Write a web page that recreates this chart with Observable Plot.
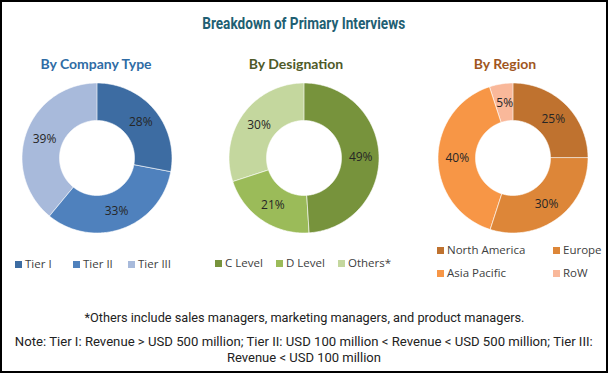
<!DOCTYPE html>
<html>
<head>
<meta charset="utf-8">
<script src="https://cdn.jsdelivr.net/npm/d3@7"></script>
<script src="https://cdn.jsdelivr.net/npm/@observablehq/plot@0.6"></script>
<style>
  html, body { margin: 0; padding: 0; background: #fff; }
  #frame { position: relative; width: 604px; height: 369px; border: 2px solid #000; overflow: hidden; background: #fff; }
  .abs { position: absolute; }
  .fit { left: 0; width: 604px; text-align: center; white-space: nowrap; }
  .fit span { display: inline-block; transform-origin: 50% 50%; }
  .title { font: bold 17px Roboto, "Liberation Sans", sans-serif; color: #1f5f73; }
  .sub { font: bold 14px Lato, "Open Sans", sans-serif; text-align: center; width: 200px; white-space: nowrap; }
  .leg { font: 11.5px "Open Sans", Lato, sans-serif; color: #404040; white-space: nowrap; }
  .sw { display: inline-block; width: 7px; height: 7px; margin-right: 3px; vertical-align: 0px; }
  .foot { font: 13px Roboto, "Liberation Sans", sans-serif; color: #222; }
</style>
</head>
<body>
<div id="frame"></div>
<script>
// ---- data ----
const companyCats = ["Tier I", "Tier II", "Tier III"];
const companyVals = [28, 33, 39];
const companyColors = ["#3d6ca2", "#4f81bd", "#a8badb"];

const designationCats = ["C Level", "D Level", "Others*"];
const designationVals = [49, 21, 30];
const designationColors = ["#77933c", "#9bbb59", "#c4d79e"];

const regionCats = ["North America", "Europe", "Asia Pacific", "RoW"];
const regionVals = [25, 30, 40, 5];
const regionColors = ["#bf722f", "#dd8638", "#f79646", "#f9b89a"];

const titleText = "Breakdown of Primary Interviews";
const subTitles = ["By Company Type", "By Designation", "By Region"];
const subColors = ["#2f6ca5", "#4f5a28", "#a0561e"];
const footnote1 = "*Others include sales managers, marketing managers, and product managers.";
const footnote2 = "Note: Tier I: Revenue > USD 500 million; Tier II: USD 100 million < Revenue < USD 500 million; Tier III:";
const footnote3 = "Revenue < USD 100 million";

// ---- layout ----
const frame = document.getElementById("frame");
function addDiv(cls, text, style) {
  const d = document.createElement("div");
  d.className = "abs " + cls;
  if (text != null) d.textContent = text;
  Object.assign(d.style, style || {});
  frame.appendChild(d);
  return d;
}
// centered text line squeezed to a target width (condensed look)
function fitLine(cls, text, centerY, targetW) {
  const d = addDiv("fit " + cls, null, {});
  const s = document.createElement("span");
  s.textContent = text;
  d.appendChild(s);
  const h = d.getBoundingClientRect().height;
  d.style.top = (centerY - 2 - h / 2) + "px";
  const w = s.getBoundingClientRect().width;
  s.style.transform = "scaleX(" + (targetW / w) + ")";
  return d;
}
fitLine("title", titleText, 23, 203);

const SIZE = 160;
const OUTER = 1, INNER = 0.5;
const DOM = 80 / 75;

function donut(cats, vals, colors) {
  const total = d3.sum(vals);
  const pts = [];
  const labels = [];
  let acc = 0;
  cats.forEach((c, i) => {
    const a0 = acc / total * 2 * Math.PI;
    acc += vals[i];
    const a1 = acc / total * 2 * Math.PI;
    const n = Math.max(2, Math.ceil((a1 - a0) / 0.02));
    for (let k = 0; k <= n; k++) {
      const a = a0 + (a1 - a0) * k / n;
      pts.push({cat: c, x1: OUTER * Math.sin(a), y1: OUTER * Math.cos(a), x2: INNER * Math.sin(a), y2: INNER * Math.cos(a)});
    }
    const am = (a0 + a1) / 2, rm = (OUTER + INNER) / 2;
    labels.push({cat: c, x: rm * Math.sin(am), y: rm * Math.cos(am), t: vals[i] + "%"});
  });
  return Plot.plot({
    width: SIZE, height: SIZE, margin: 0,
    x: {domain: [-DOM, DOM], axis: null},
    y: {domain: [-DOM, DOM], axis: null},
    color: {domain: cats, range: colors},
    style: {background: "transparent", overflow: "visible"},
    marks: [
      Plot.area(pts, {x1: "x1", y1: "y1", x2: "x2", y2: "y2", z: "cat", fill: "cat", stroke: "white", strokeWidth: 0.6}),
      Plot.text(labels, {x: "x", y: "y", text: "t", fill: "#262626", fontSize: 12, fontFamily: "Open Sans, Lato, sans-serif"})
    ]
  });
}

const centers = [[96.5, 158], [303.5, 158], [513, 158]];
const subCenters = [96, 296, 505];
const sets = [
  [companyCats, companyVals, companyColors],
  [designationCats, designationVals, designationColors],
  [regionCats, regionVals, regionColors]
];
sets.forEach((s, i) => {
  const p = donut(...s);
  p.style.position = "absolute";
  p.style.left = (centers[i][0] - 2 - SIZE / 2) + "px";
  p.style.top = (centers[i][1] - 2 - SIZE / 2) + "px";
  frame.appendChild(p);
  addDiv("sub", subTitles[i], {left: (subCenters[i] - 2 - 100) + "px", top: "53px", color: subColors[i]});
});

function legendItem(label, color, x, y) {
  const d = addDiv("leg", null, {left: (x - 2) + "px", top: (y - 2 - 9) + "px"});
  const sw = document.createElement("span");
  sw.className = "sw"; sw.style.background = color;
  d.appendChild(sw);
  d.appendChild(document.createTextNode(label));
}
const compLegX = [15, 73, 128];
companyCats.forEach((c, i) => legendItem(c, companyColors[i], compLegX[i], 265));
const desLegX = [215, 276, 338];
designationCats.forEach((c, i) => legendItem(c, designationColors[i], desLegX[i], 264));
const regLegPos = [[437, 251], [553, 251], [437, 274], [553, 274]];
regionCats.forEach((c, i) => legendItem(c, regionColors[i], regLegPos[i][0], regLegPos[i][1]));

fitLine("foot", footnote1, 317, 440);
fitLine("foot", footnote2, 341, 578);
fitLine("foot", footnote3, 357, 154);
</script>
</body>
</html>
